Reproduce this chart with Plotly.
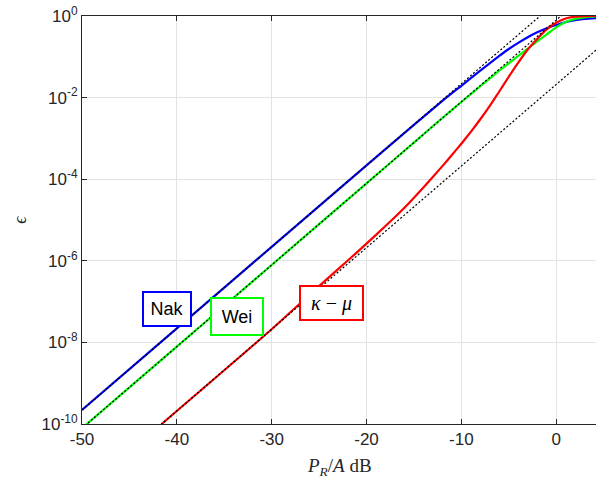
import plotly.graph_objects as go

# ---- data ----
pr_db = [-50, -40, -30, -20, -15, -12, -10, -8, -6, -5, -4, -3, -2, -1, 0, 1, 2, 3, 4.2]
eps_nak = [2.2e-10, 2.2e-8, 2.2e-6, 2.19e-4, 2.14e-3, 8.3e-3, 1.95e-2, 4.57e-2, 0.105, 0.155,
           0.219, 0.302, 0.398, 0.50, 0.60, 0.71, 0.79, 0.85, 0.89]
eps_wei = [7.9e-11, 7.9e-9, 7.9e-7, 7.9e-5, 7.9e-4, 3.16e-3, 7.8e-3, 1.9e-2, 4.6e-2, 6.9e-2,
           0.105, 0.158, 0.24, 0.355, 0.525, 0.71, 0.85, 0.93, 0.98]

pr_db_km = [-41.6, -30, -25, -22, -20, -18, -16, -14, -12, -11, -10, -9, -8, -7, -6, -5, -4,
            -3, -2, -1, 0, 1, 2, 3, 4.2]
eps_km = [1.0e-10, 2.1e-8, 2.4e-7, 1.0e-6, 2.63e-6, 7.1e-6, 2.0e-5, 6.3e-5, 2.09e-4, 3.9e-4,
          7.4e-4, 1.45e-3, 2.95e-3, 6.3e-3, 1.41e-2, 3.24e-2, 7.2e-2, 0.151, 0.275, 0.47,
          0.68, 0.87, 0.966, 0.997, 1.0]

asym_db = [-50, 5]
asym_nak = [2.2e-10, 21.9]
asym_wei = [7.9e-11, 7.9]
asym_km = [2.1e-12, 0.21]

x_ticks = [-50, -40, -30, -20, -10, 0]
x_ticktext = ["-50", "-40", "-30", "-20", "-10", "0"]
y_tickvals = [1e-10, 1e-8, 1e-6, 1e-4, 1e-2, 1e0]
y_ticktext = ["10<sup>-10</sup>", "10<sup>-8</sup>", "10<sup>-6</sup>", "10<sup>-4</sup>",
              "10<sup>-2</sup>", "10<sup>0</sup>"]

labels = ["Nak", "Wei", "<i>κ</i> − <i>μ</i>"]
label_x = [-41.05, -33.7, -23.65]
label_y = [-7.19, -7.36, -7.03]
label_colors = ["#0000FF", "#00FF00", "#FF0000"]
label_w = [46, 50, 61]
label_h = [32, 35, 32]
label_fonts = ["Liberation Sans", "Liberation Sans", "Liberation Serif"]
label_sizes = [18, 18, 20]

AX = "#262626"
dotstyle = "2px,2px"

fig = go.Figure()
fig.add_trace(go.Scatter(x=pr_db, y=eps_nak, mode="lines", line_shape="spline",
                         line=dict(color="#0000FF", width=2.2, smoothing=0.5), showlegend=False))
fig.add_trace(go.Scatter(x=pr_db, y=eps_wei, mode="lines", line_shape="spline",
                         line=dict(color="#00FF00", width=2.2, smoothing=0.5), showlegend=False))
fig.add_trace(go.Scatter(x=pr_db_km, y=eps_km, mode="lines", line_shape="spline",
                         line=dict(color="#FF0000", width=2.2, smoothing=0.5), showlegend=False))
for ay in (asym_nak, asym_wei, asym_km):
    fig.add_trace(go.Scatter(x=asym_db, y=ay, mode="lines",
                             line=dict(color="#000000", width=1.2, dash=dotstyle),
                             showlegend=False))

for t, lx, ly, c, w, h, f, s in zip(labels, label_x, label_y, label_colors, label_w, label_h,
                                     label_fonts, label_sizes):
    fig.add_annotation(x=lx, y=ly, xref="x", yref="y", text=t, showarrow=False,
                       font=dict(family=f, size=s, color="#000000"),
                       bordercolor=c, borderwidth=2, borderpad=0,
                       bgcolor="white", width=w, height=h, align="center", valign="middle")

# axis titles
fig.add_annotation(x=0.5, y=-0.106, xref="paper", yref="paper", showarrow=False,
                   text="<i>P</i><sub><i>R</i></sub>/<i>A</i> dB", yanchor="middle",
                   font=dict(family="Liberation Serif", size=19, color=AX))
fig.add_annotation(x=-0.121, y=0.5, xref="paper", yref="paper", showarrow=False,
                   text="<i>ϵ</i>", textangle=-90, xanchor="center", yanchor="middle",
                   font=dict(family="Liberation Serif", size=18, color=AX))

fig.update_layout(
    width=596, height=478,
    margin=dict(l=82, r=0, t=16, b=54, autoexpand=False),
    paper_bgcolor="white", plot_bgcolor="white",
    font=dict(family="Liberation Sans", size=17, color=AX),
    xaxis=dict(range=[-50, 4.2], tickvals=x_ticks, ticktext=x_ticktext, ticks="inside",
               ticklen=5, tickcolor=AX, showline=True, linecolor=AX, linewidth=1,
               mirror="ticks", showgrid=True, gridcolor="#E3E3E3", gridwidth=1,
               zeroline=False, automargin=False),
    yaxis=dict(type="log", range=[-10, 0], tickvals=y_tickvals, ticktext=y_ticktext,
               ticks="inside", ticklen=5, tickcolor=AX, showline=True, linecolor=AX,
               linewidth=1, mirror=False, showgrid=True, gridcolor="#E3E3E3", gridwidth=1,
               zeroline=False, automargin=False),
)

fig.write_html("out.html", config={"displayModeBar": False},
               post_script="document.body.style.margin='0';document.body.style.overflow='hidden';")
